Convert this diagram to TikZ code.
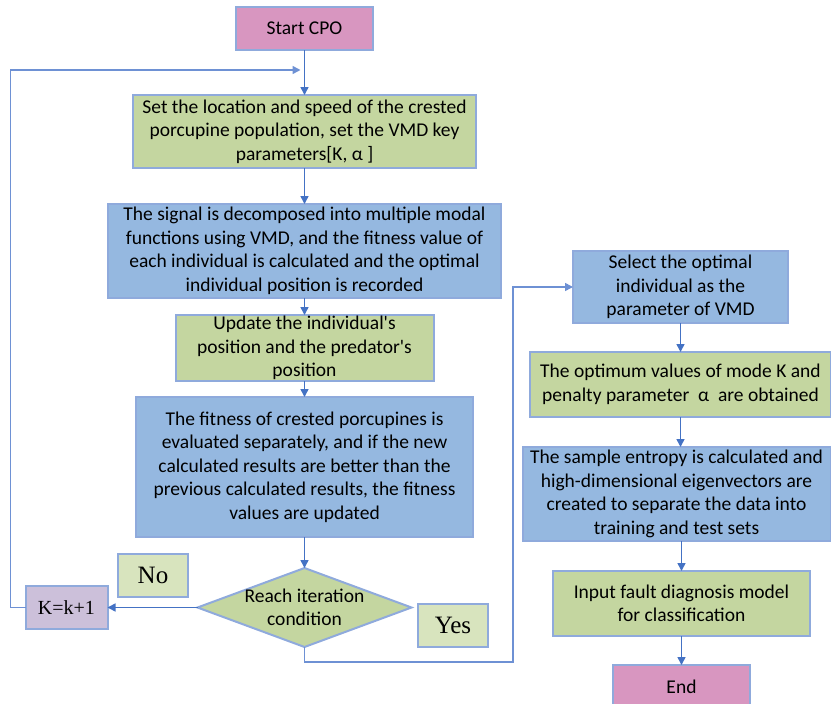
\documentclass[tikz,border=0pt]{standalone}
\usepackage{fontspec}
\setmainfont{Carlito}
\newfontfamily\timesfont{Liberation Serif}
\usetikzlibrary{positioning,arrows.meta,shapes.geometric}
\definecolor{pinkfill}{RGB}{216,150,192}
\definecolor{greenfill}{RGB}{196,214,160}
\definecolor{bluefill}{RGB}{149,184,224}
\definecolor{lavfill}{RGB}{204,192,218}
\definecolor{lgreen}{RGB}{216,228,190}
\definecolor{edgeblue}{RGB}{143,170,220}
\definecolor{arrowblue}{RGB}{68,114,196}
\definecolor{loopblue}{RGB}{110,145,212}

\begin{document}
\begin{tikzpicture}[
  x=1pt,y=-1pt,
  >={Triangle[length=8pt,width=8pt]},
  box/.style={draw=edgeblue,line width=2pt,outer sep=0pt,align=center,inner xsep=3pt,inner ysep=0pt,
              font=\fontsize{19.5}{23.5}\selectfont},
  term/.style={box,fill=pinkfill,minimum width=137pt,minimum height=43pt},
  setp/.style={box,fill=greenfill},
  calcbox/.style={box,fill=bluefill},
  lbl/.style={draw=edgeblue,line width=2pt,outer sep=0pt,fill=lgreen,inner sep=0pt,
              font=\timesfont\fontsize{25}{27}\selectfont,minimum width=70pt,minimum height=43pt},
  cond/.style={diamond,draw=edgeblue,line width=2pt,outer sep=0pt,fill=greenfill,aspect=2.7,
               inner sep=0pt,minimum width=214pt,minimum height=79pt},
  flow/.style={->,line width=1.6pt,draw=arrowblue},
  route/.style={flow,draw=loopblue}
]
  \useasboundingbox (0,0) rectangle (831,704);

  % main loop (left column)
  \node[term] (start) at (304.5,28.5) {Start CPO};
  \node[setp,minimum width=343pt,minimum height=73pt,below=45pt of start] (init)
       {Set the location and speed of the crested\\ porcupine population, set the VMD key\\ parameters[K, α ]};
  \node[calcbox,minimum width=393pt,minimum height=94pt,below=36pt of init] (decomp)
       {The signal is decomposed into multiple modal\\ functions using VMD, and the fitness value of\\
        each individual is calculated and the optimal\\ individual position is recorded};
  \node[setp,minimum width=258pt,minimum height=66pt,below=17pt of decomp] (update)
       {Update the individual\textquotesingle s\\ position and the predator\textquotesingle s\\ position};
  \node[calcbox,minimum width=337pt,minimum height=140pt,below=16pt of update] (fitness)
       {The fitness of crested porcupines is\\ evaluated separately, and if the new\\
        calculated results are better than the\\ previous calculated results, the fitness\\ values are updated};
  \node[cond,below=31pt of fitness] (cond) {};
  \node[font=\fontsize{19.5}{23.5}\selectfont,align=center] (condtxt) at (cond) {Reach iteration\\ condition};
  \node[lbl,fill=lavfill,minimum width=82pt,font=\timesfont\fontsize{20}{22}\selectfont,left=90pt of cond] (kbox) {K=k+1};
  \node[lbl] (no)  at (153,575.5) {No};
  \node[lbl] (yes) at (453,625.5) {Yes};
  \coordinate[below=20pt of start] (merge);
  \coordinate (bend) at (513,662);

  % result chain (right column)
  \node[calcbox,minimum width=215pt,minimum height=72pt] (select) at (680.5,287)
       {Select the optimal\\ individual as the\\ parameter of VMD};
  \node[setp,minimum width=301pt,minimum height=65pt,below=29pt of select] (optim)
       {The optimum values of mode K and\\ penalty parameter~ α~ are obtained};
  \node[calcbox,minimum width=308pt,minimum height=94pt,below=30pt of optim,xshift=-4pt] (entropy)
       {The sample entropy is calculated and\\ high-dimensional eigenvectors are\\
        created to separate the data into\\ training and test sets};
  \node[setp,minimum width=257pt,minimum height=65pt,below=30pt of entropy,xshift=5pt] (input)
       {Input fault diagnosis model\\ for classification};
  \node[term,minimum height=44pt,below=29pt of input] (end) {End};

  \draw[flow] (start) -- (init);
  \draw[flow] (init) -- (decomp);
  \draw[flow] (decomp) -- (update);
  \draw[flow] (update) -- (fitness);
  \draw[flow] (fitness) -- (cond);
  \draw[flow] (cond.west) -- (kbox.east);
  \draw[route] (kbox.west) -- ++(-15,0) |- ([xshift=-4pt]merge);
  \draw[route] (cond.south) |- (bend) |- (select.west);
  \draw[flow] (select) -- (optim);
  \draw[flow] (optim.south) -- (optim.south |- entropy.north);
  \draw[flow] (entropy.south -| input.north) -- (input.north);
  \draw[flow] (input) -- (end);
\end{tikzpicture}
\end{document}
